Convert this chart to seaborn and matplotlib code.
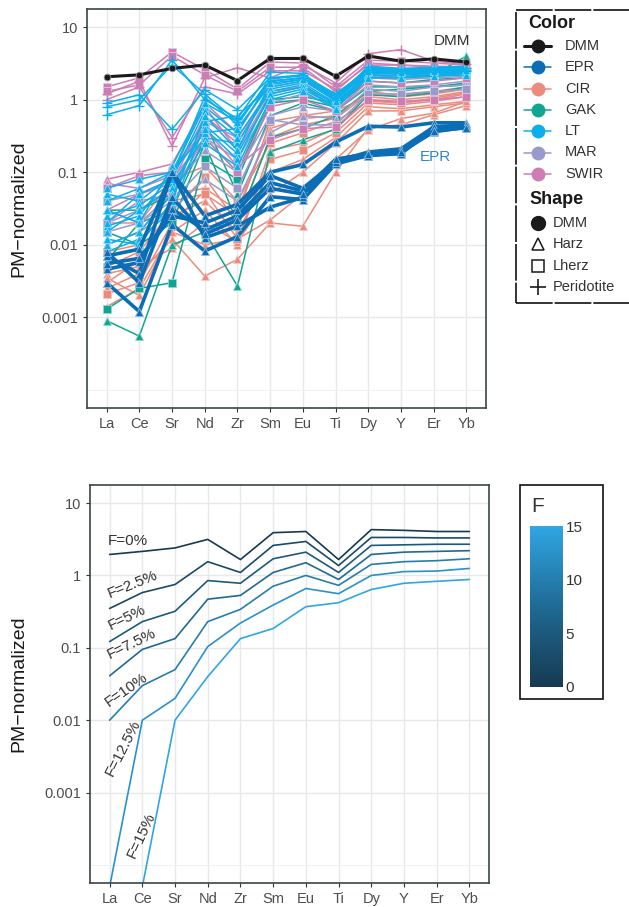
import numpy as np
import pandas as pd
import matplotlib
matplotlib.use("Agg")
import matplotlib.pyplot as plt
import seaborn as sns
from matplotlib.colors import LinearSegmentedColormap, Normalize, to_rgb
from matplotlib.lines import Line2D
from matplotlib.patches import Rectangle
from matplotlib.cm import ScalarMappable
from matplotlib.ticker import FixedLocator, NullFormatter

# --- data -------------------------------------------------------------
elements = ['La', 'Ce', 'Sr', 'Nd', 'Zr', 'Sm', 'Eu', 'Ti', 'Dy', 'Y', 'Er', 'Yb']

groups = ['DMM', 'EPR', 'CIR', 'GAK', 'LT', 'MAR', 'SWIR']
group_colors = ['#1a1a1a', '#0a6db5', '#eb8b7d', '#0fa592', '#0aafeb', '#9999cc', '#cc7db4']
shape_names = ['DMM', 'Harz', 'Lherz', 'Peridotite']

dmm_shape = ['DMM']
dmm_vals = [[2.07, 2.2, 2.7, 3.0, 1.83, 3.7, 3.7, 2.1, 4.0, 3.4, 3.65, 3.3]]

epr_shape = ['Harz'] * 6
epr_vals = [
    [0.007, 0.0087, 0.1, 0.025, 0.036, 0.1, 0.128, 0.26, 0.43, 0.42, 0.48, 0.48],
    [0.0046, 0.0057, 0.031, 0.016, 0.025, 0.072, 0.055, 0.15, 0.18, 0.2, 0.38, 0.43],
    [0.003, 0.0012, 0.019, 0.0082, 0.013, 0.046, 0.042, 0.13, 0.17, 0.19, 0.36, 0.42],
    [0.007, 0.004, 0.1, 0.0125, 0.018, 0.033, 0.045, 0.14, 0.17, 0.18, 0.4, 0.44],
    [0.0055, 0.0065, 0.025, 0.02, 0.03, 0.09, 0.06, 0.14, 0.19, 0.21, 0.42, 0.45],
    [0.008, 0.003, 0.045, 0.014, 0.022, 0.06, 0.05, 0.15, 0.18, 0.19, 0.37, 0.41],
]

cir_shape = ['Harz', 'Lherz', 'Harz', 'Lherz', 'Harz', 'Harz', 'Lherz', 'Harz', 'Harz', 'Lherz']
cir_vals = [
    [0.0025, 0.004, 0.012, 0.0037, 0.0063, 0.02, 0.018, 0.1, 0.41, 0.45, 0.62, 0.83],
    [0.0021, 0.003, 0.02, 0.055, 0.012, 0.15, 0.2, 0.35, 0.9, 0.85, 0.95, 1.1],
    [0.0014, 0.0025, 0.015, 0.03, 0.01, 0.2, 0.25, 0.4, 1.0, 0.9, 1.0, 1.2],
    [0.005, 0.008, 0.03, 0.085, 0.02, 0.3, 0.45, 0.55, 1.2, 1.1, 1.2, 1.4],
    [0.01, 0.015, 0.05, 0.06, 0.03, 0.4, 0.55, 0.6, 1.3, 1.15, 1.3, 1.5],
    [0.003, 0.006, 0.025, 0.04, 0.015, 0.1, 0.15, 0.3, 0.8, 0.75, 0.85, 0.95],
    [0.02, 0.02, 0.08, 0.12, 0.04, 0.25, 0.35, 0.5, 0.95, 0.9, 1.05, 1.25],
    [0.004, 0.005, 0.009, 0.02, 0.011, 0.05, 0.1, 0.25, 0.7, 0.7, 0.8, 0.9],
    [0.0035, 0.002, 0.015, 0.01, 0.012, 0.022, 0.05, 0.15, 0.38, 0.55, 0.65, 0.95],
    [0.008, 0.01, 0.04, 0.05, 0.025, 0.5, 0.6, 0.7, 1.1, 1.0, 1.1, 1.3],
]

gak_shape = ['Harz', 'Lherz', 'Harz', 'Harz', 'Lherz']
gak_vals = [
    [0.0009, 0.00055, 0.01, 0.015, 0.0027, 0.19, 0.28, 0.39, 1.17, 1.1, 1.25, 1.5],
    [0.0013, 0.0025, 0.003, 0.15, 0.08, 0.9, 1.0, 0.8, 1.8, 1.7, 1.9, 2.0],
    [0.006, 0.02, 0.03, 0.3, 0.1, 1.0, 1.1, 0.9, 2.0, 2.0, 2.2, 4.0],
    [0.03, 0.03, 0.05, 0.5, 0.05, 0.6, 0.9, 0.7, 1.5, 1.5, 1.5, 1.6],
    [0.015, 0.01, 0.02, 0.25, 0.02, 0.3, 0.4, 0.6, 1.3, 1.4, 1.5, 1.7],
]

lt_shape = ['Peridotite'] * 3 + ['Harz'] * 11
lt_vals = [
    [0.62, 0.83, 3.55, 1.0, 0.55, 2.4, 2.3, 1.1, 2.8, 2.6, 2.7, 2.7],
    [0.9, 1.17, 0.39, 1.37, 0.73, 2.0, 2.2, 1.2, 2.6, 2.5, 2.6, 2.6],
    [0.8, 1.0, 3.0, 1.2, 0.5, 1.8, 2.0, 1.0, 2.4, 2.3, 2.4, 2.5],
    [0.06, 0.08, 0.1, 0.5, 0.6, 1.5, 1.8, 1.2, 2.5, 2.4, 2.5, 2.5],
    [0.04, 0.06, 0.1, 0.35, 0.4, 1.6, 1.9, 1.0, 2.6, 2.5, 2.6, 2.6],
    [0.02, 0.05, 0.08, 0.7, 0.3, 1.4, 1.7, 0.9, 2.3, 2.3, 2.4, 2.4],
    [0.015, 0.03, 0.06, 0.4, 0.15, 1.2, 1.5, 0.8, 2.2, 2.1, 2.2, 2.3],
    [0.01, 0.015, 0.05, 0.25, 0.12, 1.0, 1.3, 0.75, 2.0, 2.0, 2.1, 2.2],
    [0.03, 0.02, 0.12, 0.9, 0.5, 1.8, 2.0, 1.1, 2.7, 2.6, 2.7, 2.8],
    [0.012, 0.01, 0.04, 0.6, 0.2, 1.7, 1.9, 0.95, 2.5, 2.4, 2.5, 2.6],
    [0.05, 0.04, 0.09, 1.1, 0.45, 2.0, 2.1, 1.0, 2.9, 2.7, 2.8, 2.9],
    [0.025, 0.035, 0.07, 0.3, 0.25, 1.3, 1.6, 0.85, 2.4, 2.3, 2.3, 2.4],
    [0.008, 0.012, 0.03, 0.45, 0.18, 1.1, 1.4, 0.8, 2.1, 2.2, 2.3, 2.3],
    [0.018, 0.025, 0.1, 0.8, 0.35, 1.9, 2.2, 1.05, 2.6, 2.5, 2.6, 2.7],
]

mar_shape = ['Harz', 'Lherz', 'Lherz', 'Harz', 'Harz']
mar_vals = [
    [0.02, 0.03, 0.06, 0.2, 0.1, 0.6, 0.8, 0.7, 1.6, 1.5, 1.6, 1.8],
    [0.04, 0.05, 0.08, 0.3, 0.15, 0.9, 1.2, 0.8, 2.0, 1.9, 2.0, 2.1],
    [0.015, 0.02, 0.04, 0.12, 0.06, 0.53, 0.45, 0.45, 1.2, 1.2, 1.3, 1.4],
    [0.03, 0.02, 0.05, 0.5, 0.3, 1.3, 1.5, 0.9, 2.2, 2.2, 2.3, 2.4],
    [0.01, 0.015, 0.03, 0.08, 0.04, 0.35, 0.6, 0.55, 1.4, 1.3, 1.5, 1.6],
]

swir_shape = ['Lherz', 'Peridotite', 'Peridotite', 'Lherz', 'Harz', 'Lherz', 'Harz', 'Lherz', 'Harz']
swir_vals = [
    [1.5, 2.0, 4.55, 2.6, 1.4, 3.3, 3.2, 1.5, 3.5, 3.4, 3.2, 3.0],
    [1.2, 1.8, 0.23, 2.0, 2.75, 2.0, 3.0, 1.7, 4.3, 4.9, 3.4, 3.1],
    [1.0, 1.5, 0.3, 1.5, 1.2, 2.5, 2.5, 1.4, 3.0, 3.0, 2.8, 2.7],
    [1.3, 1.6, 4.0, 2.2, 1.3, 2.8, 2.8, 1.3, 3.2, 3.0, 2.9, 2.8],
    [0.08, 0.1, 0.13, 0.8, 0.2, 1.2, 1.5, 0.9, 2.2, 2.0, 2.1, 2.3],
    [0.06, 0.09, 0.1, 0.4, 0.12, 0.28, 0.4, 0.42, 1.0, 0.95, 1.0, 1.1],
    [0.03, 0.05, 0.07, 0.6, 0.25, 1.5, 1.8, 1.0, 2.5, 2.4, 2.5, 2.6],
    [0.02, 0.04, 0.05, 0.3, 0.1, 0.8, 1.0, 0.7, 1.8, 1.7, 1.8, 2.0],
    [0.07, 0.06, 0.09, 0.9, 0.35, 1.8, 2.0, 1.1, 2.8, 2.6, 2.6, 2.7],
]

# melting model (bottom panel)
F_levels = [0, 2.5, 5, 7.5, 10, 12.5, 15]
F_labels = ['F=0%', 'F=2.5%', 'F=5%', 'F=7.5%', 'F=10%', 'F=12.5%', 'F=15%']
melt_vals = [
    [1.95, 2.15, 2.4, 3.15, 1.66, 3.9, 4.05, 1.66, 4.3, 4.2, 4.05, 4.05],
    [0.35, 0.58, 0.75, 1.55, 1.1, 2.6, 2.95, 1.37, 3.35, 3.35, 3.3, 3.3],
    [0.122, 0.23, 0.32, 0.85, 0.78, 1.7, 2.1, 1.1, 2.6, 2.65, 2.7, 2.7],
    [0.041, 0.095, 0.134, 0.47, 0.53, 1.1, 1.5, 0.88, 1.95, 2.1, 2.15, 2.2],
    [0.010, 0.030, 0.05, 0.23, 0.34, 0.71, 1.0, 0.73, 1.42, 1.55, 1.6, 1.7],
    [5e-5, 0.010, 0.020, 0.104, 0.22, 0.39, 0.66, 0.56, 1.0, 1.13, 1.15, 1.25],
    [1e-6, 5e-5, 0.010, 0.04, 0.134, 0.185, 0.37, 0.42, 0.64, 0.78, 0.83, 0.88],
]

# --- long tables ------------------------------------------------------
sample_sets = {
    'DMM': (dmm_shape, dmm_vals), 'EPR': (epr_shape, epr_vals),
    'CIR': (cir_shape, cir_vals), 'GAK': (gak_shape, gak_vals),
    'LT': (lt_shape, lt_vals), 'MAR': (mar_shape, mar_vals),
    'SWIR': (swir_shape, swir_vals),
}
rows = []
for g, (shp, vals) in sample_sets.items():
    for i, (s, v) in enumerate(zip(shp, vals)):
        for el, val in zip(elements, v):
            rows.append({'group': g, 'sample': f'{g}{i}', 'shape': s,
                         'element': el, 'value': val})
df = pd.DataFrame(rows)

melt_rows = []
for f, v in zip(F_levels, melt_vals):
    for el, val in zip(elements, v):
        melt_rows.append({'F': f, 'element': el, 'value': val})
df_melt = pd.DataFrame(melt_rows)

# --- style ------------------------------------------------------------
sns.set_theme(style='white')
plt.rcParams['font.family'] = ['Liberation Sans', 'DejaVu Sans']

W, H = 629, 907
fx = lambda px: px / W
fy = lambda py: 1 - py / H

fig = plt.figure(figsize=(W / 100, H / 100), dpi=100)
ax1 = fig.add_axes([fx(87), fy(408), 399 / W, 399 / H])
ax2 = fig.add_axes([fx(90), fy(883), 399 / W, 398 / H])

# fix category order on both axes before anything else is drawn
for ax in (ax1, ax2):
    ax.plot(elements, [1] * len(elements), alpha=0)

color_map = dict(zip(groups, group_colors))
marker_map = {'DMM': 'o', 'Harz': '^', 'Lherz': 's', 'Peridotite': '+'}
lw_map = {'DMM': 2.2, 'EPR': 2.6}

# draw order: background groups first, EPR and DMM on top
for g in ['CIR', 'GAK', 'MAR', 'SWIR', 'LT', 'EPR', 'DMM']:
    edge = tuple(0.45 * np.array(to_rgb(color_map[g])) + 0.55)
    for s in shape_names:
        sub = df[(df['group'] == g) & (df['shape'] == s)]
        if sub.empty:
            continue
        m = marker_map[s]
        if m == '+':
            mk = dict(markersize=6.5, markeredgecolor=color_map[g], markeredgewidth=1.0)
        else:
            mk = dict(markersize=4.8 if g == 'DMM' else 5.5,
                      markeredgecolor=edge, markeredgewidth=0.6)
        sns.lineplot(data=sub, x='element', y='value', units='sample', estimator=None,
                     marker=m, sort=False, color=color_map[g],
                     linewidth=lw_map.get(g, 1.1), legend=False, ax=ax1, **mk)

ax1.text(10.0, 6.5, 'DMM', fontsize=11, color='#333333', ha='left', va='center')
ax1.text(9.57, 0.16, 'EPR', fontsize=11, color='#2f86cc', ha='left', va='center')

# bottom panel: melting model
cmap = LinearSegmentedColormap.from_list('fblue', ['#163a50', '#1f6a94', '#30a6e3'])
norm = Normalize(0, 15)
sns.lineplot(data=df_melt, x='element', y='value', hue='F', units='F',
             estimator=None, palette=cmap, hue_norm=(0, 15), sort=False,
             linewidth=1.2, legend=False, ax=ax2)

label_pos = [(-0.06, 2.95, 0, 'left'), (0.72, 0.75, 22, 'center'),
             (0.52, 0.26, 26, 'center'), (0.67, 0.115, 26, 'center'),
             (0.52, 0.026, 35, 'center'), (0.40, 0.0042, 63, 'center'),
             (0.98, 0.00026, 65, 'center')]
for lab, (x, y, rot, ha) in zip(F_labels, label_pos):
    ax2.text(x, y, lab, fontsize=11, color='#333333', rotation=rot,
             ha=ha, va='center', rotation_mode='anchor' if rot else 'default')

# --- axes styling -----------------------------------------------------
for ax, lab_x in [(ax1, -0.150), (ax2, -0.158)]:
    ax.set_yscale('log')
    ax.set_ylim(10 ** -4.25, 10 ** 1.25)
    ax.set_xlim(-0.6, len(elements) - 0.4)
    ax.set_yticks([10, 1, 0.1, 0.01, 0.001])
    ax.set_yticklabels(['10', '1', '0.1', '0.01', '0.001'])
    ax.yaxis.set_minor_locator(FixedLocator([1e-4]))
    ax.yaxis.set_minor_formatter(NullFormatter())
    ax.set_xticks(range(len(elements)))
    ax.set_xticklabels(elements)
    ax.grid(True, which='major', color='#e6e8ec', linewidth=1.0)
    ax.grid(True, which='minor', axis='y', color='#eef0f3', linewidth=0.7)
    ax.set_axisbelow(True)
    ax.tick_params(which='major', length=3, width=0.8, color='#333333',
                   labelsize=10.5, labelcolor='#4d4d4d', pad=3.5,
                   bottom=True, left=True)
    ax.tick_params(which='minor', length=0)
    for sp in ax.spines.values():
        sp.set_color('#3b4545')
        sp.set_linewidth(1.2)
    ax.set_xlabel('')
    ax.set_ylabel('PM\u2212normalized', fontsize=14, color='#1a1a1a')
    ax.yaxis.set_label_coords(lab_x, 0.5)

# --- top legend (manual, dashed frame) --------------------------------
fig.add_artist(Rectangle((fx(516), fy(303)), 0.3, (303 - 10) / H, fill=False,
                         edgecolor='#111111', linewidth=1.2,
                         linestyle=(0, (22, 1.2)), transform=fig.transFigure))
fig.text(fx(528), fy(23), 'Color', fontsize=13, fontweight='bold',
         color='#1a1a1a', ha='left', va='center')
for i, g in enumerate(groups):
    y = fy(46 + 21.3 * i)
    fig.add_artist(Line2D([fx(524), fx(551)], [y, y], color=color_map[g],
                          linewidth=2.2 if g == 'DMM' else 1.1,
                          transform=fig.transFigure))
    fig.add_artist(Line2D([fx(537.5)], [y], marker='o', markersize=9,
                          color=color_map[g], linestyle='none',
                          transform=fig.transFigure))
    fig.text(fx(565), y, g, fontsize=10.5, color='#333333', ha='left', va='center')

fig.text(fx(529), fy(200), 'Shape', fontsize=13, fontweight='bold',
         color='#1a1a1a', ha='left', va='center')
for i, s in enumerate(shape_names):
    y = fy(223 + 21.3 * i)
    m = marker_map[s]
    kw = dict(marker=m, linestyle='none', color='#1a1a1a', transform=fig.transFigure)
    if s == 'DMM':
        kw.update(markersize=10)
    elif s == 'Peridotite':
        kw.update(markersize=12, markeredgewidth=1.2)
    else:
        kw.update(markersize=9 if m == '^' else 8.5, markerfacecolor='none',
                  markeredgewidth=1.1)
    fig.add_artist(Line2D([fx(538)], [y], **kw))
    fig.text(fx(553), y, s, fontsize=10.5, color='#333333', ha='left', va='center')

# --- colour bar for F --------------------------------------------------
fig.add_artist(Rectangle((fx(520), fy(699)), (603 - 520) / W, (699 - 485) / H,
                         fill=False, edgecolor='#111111', linewidth=1.2,
                         transform=fig.transFigure))
fig.text(fx(531), fy(506), 'F', fontsize=15, color='#333333', ha='left', va='center')
cax = fig.add_axes([fx(530), fy(687), 33 / W, 161 / H])
cb = fig.colorbar(ScalarMappable(norm=norm, cmap=cmap), cax=cax, ticks=[0, 5, 10, 15])
cb.outline.set_visible(False)
cax.tick_params(direction='in', length=4, width=0.8, color='white',
                labelsize=11, labelcolor='#333333', pad=2)

fig.savefig('out.png', dpi=100)
